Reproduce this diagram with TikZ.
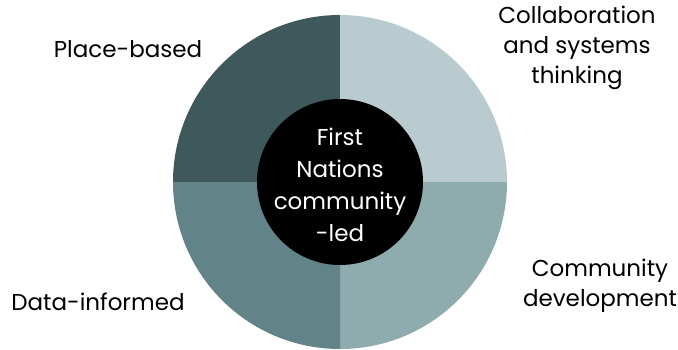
\documentclass[tikz,border=0pt]{standalone}
\usepackage{fontspec}
\setmainfont{Poppins}
\usepackage{tikz}
\usepackage{xcolor}
\usetikzlibrary{positioning}

\definecolor{qdark}{HTML}{3F585C}
\definecolor{qlight}{HTML}{B9CBCE}
\definecolor{qmid}{HTML}{628387}
\definecolor{qsoft}{HTML}{8EABAE}

\tikzset{
    lbl/.style={align=center, font=\fontsize{23}{30}\selectfont},
    hub/.style={text=white, align=center, inner sep=0pt,
                font=\fontsize{23}{32}\selectfont}
}

\begin{document}
\begin{tikzpicture}[x=1pt, y=1pt]
        \useasboundingbox (0,0) rectangle (678,349);
        \coordinate (c) at (340,167);
        % four quarters of the ring
        \fill[qdark]  (c) -- ++(-167,0) arc (180:90:167) -- cycle;
        \fill[qlight] (c) -- ++(0,167) arc (90:0:167) -- cycle;
        \fill[qsoft]  (c) -- ++(167,0) arc (0:-90:167) -- cycle;
        \fill[qmid]   (c) -- ++(0,-167) arc (270:180:167) -- cycle;
        % middle
        \fill[black] (c) circle (83);
        \node[hub] (core) at (340,164) {First\\Nations\\community\\-led};
        % labels round the ring
        \node[lbl] (place)  at (128,300) {Place-based};
        \node[lbl] (collab) at (577,301) {Collaboration\\and systems\\thinking};
        \node[lbl] (devel)  at (600,63)  {Community\\development};
        \node[lbl] (data)   at (98,47)   {Data-informed};
    \end{tikzpicture}
\end{document}
